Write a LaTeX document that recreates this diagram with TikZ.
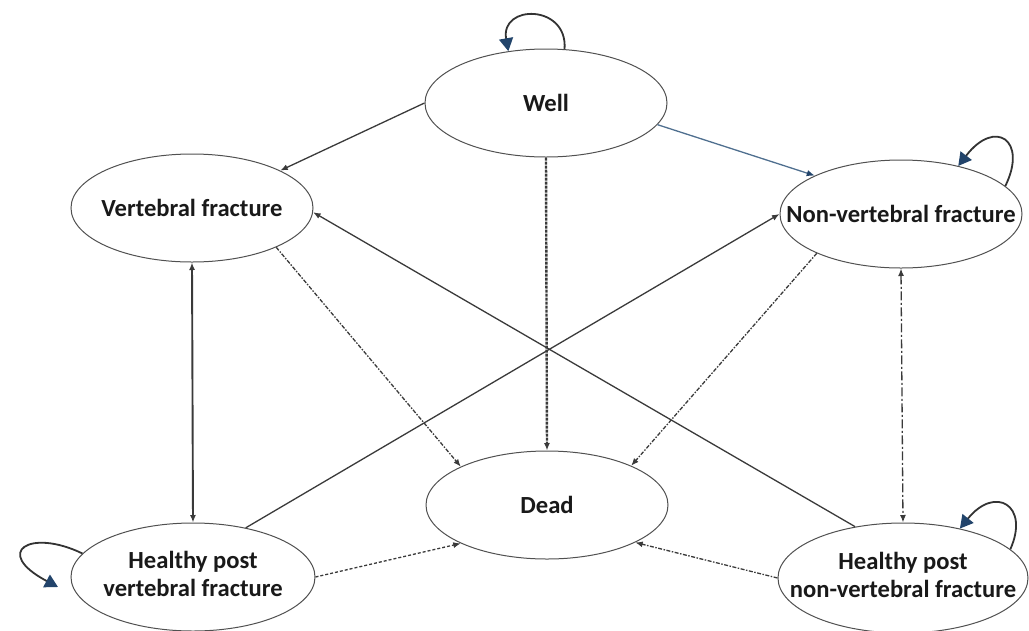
\documentclass[tikz,border=0pt]{standalone}
\usepackage{fontspec}
\setmainfont{Carlito}
\usetikzlibrary{arrows.meta,shapes.geometric}

\definecolor{edgegray}{HTML}{3A3A3A}
\definecolor{rimgray}{HTML}{505050}
\definecolor{steel}{HTML}{4F6F8F}
\definecolor{navytip}{HTML}{22446B}

\newcommand{\onelabel}[1]{\makebox[0pt]{#1}}
\newcommand{\twolabel}[2]{\makebox[0pt]{\begin{tabular}{@{}c@{}}#1\\#2\end{tabular}}}

\begin{document}
\begin{tikzpicture}[x=1pt,y=-1pt,
  state/.style={ellipse,draw=rimgray,line width=1pt,fill=white,inner sep=0pt,
    minimum width=242pt,minimum height=108pt,
    font=\fontsize{24.6}{28}\selectfont\bfseries,text=black!90},
  conn/.style={draw=edgegray,line width=1.3pt,-{Latex[length=7.5pt,width=6pt]}},
  twoway/.style={conn,{Latex[length=7.5pt,width=6pt]}-{Latex[length=7.5pt,width=6pt]}},
  selfloop/.style={draw=black!80,line width=1.8pt,
    -{Triangle[length=13pt,width=14pt,color=navytip]}},
  densedash/.style={dash pattern=on 3pt off 1pt},
  dashdotted/.style={dash pattern=on 4pt off 1.5pt on 1.5pt off 1.5pt},
  longdashdot/.style={dash pattern=on 9pt off 2.5pt on 2pt off 2.5pt}]

\useasboundingbox (0,0) rectangle (1029,630);

% states
\node[state] (well) at (546,103) {\onelabel{Well}};
\node[state] (vf)   at (192,208) {\onelabel{Vertebral fracture}};
\node[state] (nvf)  at (901,214) {\onelabel{Non-vertebral fracture}};
\node[state] (dead) at (547,505) {\onelabel{Dead}};
\node[state,minimum width=244pt] (hpv)  at (193,577) {\twolabel{Healthy post}{vertebral fracture}};
\node[state,minimum width=250pt,minimum height=110pt] (hpnv) at (903,578) {\twolabel{Healthy post}{non-vertebral fracture}};

% free end of the loop on the lower-left state
\coordinate (hpvtip) at (58,587);

% transitions out of Well
\draw[conn] (well.180) -- (vf.23);
\draw[conn,draw=steel,-{Latex[length=8pt,width=6.5pt,color=navytip]}] (well.349) -- (nvf.156);
\draw[conn,line width=2.4pt,densedash] (well.south) -- (dead.north);

% fractures to death
\draw[conn,dashdotted] (vf.335) -- (dead.156);
\draw[conn,dashdotted] (nvf.205) -- (dead.25);

% fracture <-> healthy post fracture
\draw[twoway,line width=1.9pt] (vf.south) -- (hpv.north);
\draw[twoway,longdashdot] (nvf.south) -- (hpnv.north);

% crossing transitions
\draw[conn] (hpv.43) -- (nvf.180);
\draw[conn] (hpnv.133) -- (vf.358);

% healthy post states to death
\draw[conn,dash pattern=on 3pt off 2pt] (hpv.0) -- (dead.204);
\draw[conn,dashdotted] (hpnv.180) -- (dead.337);

% self loops
\draw[selfloop] (well.71) .. controls (568,4) and (500,4) .. (well.126);
\draw[selfloop] (nvf.15) .. controls (1028,140) and (995,118) .. (nvf.40);
\draw[selfloop] (hpnv.15) .. controls (1030,505) and (995,485) .. (hpnv.41);
\draw[selfloop] (hpv.168) .. controls (30,528) and (-8,552) .. (hpvtip);

\end{tikzpicture}
\end{document}
